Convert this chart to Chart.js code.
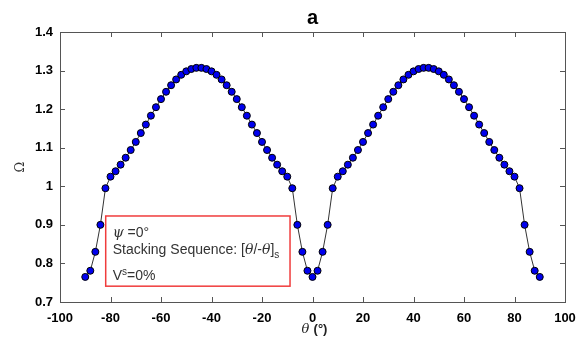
<!DOCTYPE html>
<html>
<head>
<meta charset="utf-8">
<script src="https://cdn.jsdelivr.net/npm/chart.js@4/dist/chart.umd.min.js"></script>
<style>
html,body{margin:0;padding:0;background:#fff;}
#wrap{width:586px;height:338px;position:relative;}
</style>
</head>
<body>
<div id="wrap"><canvas id="c" width="586" height="338"></canvas></div>
<script>
// Data
const thetaDeg = [];
for (let t = -90; t <= 90; t += 2) thetaDeg.push(t);
const omegaLeft = [0.765,0.781,0.830,0.900,0.995,1.025,1.039,1.056,1.074,1.094,1.115,1.138,1.160,1.183,1.205,1.226,1.245,1.262,1.277,1.289,1.298,1.304,1.307,
                   1.307,1.304,1.298,1.289,1.277,1.262,1.245,1.226,1.205,1.183,1.160,1.138,1.115,1.094,1.074,1.056,1.039,1.025,0.995,0.900,0.830,0.781,0.765];
const omegaRight = [0.781,0.830,0.900,0.995,1.025,1.039,1.056,1.074,1.094,1.115,1.138,1.160,1.183,1.205,1.226,1.245,1.262,1.277,1.289,1.298,1.304,1.307,
                    1.307,1.304,1.298,1.289,1.277,1.262,1.245,1.226,1.205,1.183,1.160,1.138,1.115,1.094,1.074,1.056,1.039,1.025,0.995,0.900,0.830,0.781,0.765];
const omega = omegaLeft.concat(omegaRight);
const xTicks = [-100,-80,-60,-40,-20,0,20,40,60,80,100];
const yTicks = [0.7,0.8,0.9,1,1.1,1.2,1.3,1.4];
const yTickLabels = ['0.7','0.8','0.9','1','1.1','1.2','1.3','1.4'];

const points = thetaDeg.map((t,i)=>({x:t,y:omega[i]}));
const AX = '#555';

const decor = {
  id:'decor',
  afterDraw(chart){
    const ctx = chart.ctx, a = chart.chartArea;
    const xs = chart.scales.x, ys = chart.scales.y;
    ctx.save();
    ctx.strokeStyle = AX; ctx.lineWidth = 1;
    ctx.strokeRect(Math.round(a.left)+0.5, Math.round(a.top)+0.5, Math.round(a.right-a.left), Math.round(a.bottom-a.top));
    ctx.beginPath();
    xTicks.forEach(v=>{
      const px = Math.round(xs.getPixelForValue(v))+0.5;
      ctx.moveTo(px, a.bottom); ctx.lineTo(px, a.bottom-5);
      ctx.moveTo(px, a.top); ctx.lineTo(px, a.top+5);
    });
    yTicks.forEach(v=>{
      const py = Math.round(ys.getPixelForValue(v))+0.5;
      ctx.moveTo(a.left, py); ctx.lineTo(a.left+5, py);
      ctx.moveTo(a.right, py); ctx.lineTo(a.right-5, py);
    });
    ctx.stroke();

    // title
    ctx.fillStyle = '#000';
    ctx.font = 'bold 20px "Liberation Sans", Arial, sans-serif';
    ctx.textAlign = 'center'; ctx.textBaseline = 'alphabetic';
    ctx.fillText('a', (a.left+a.right)/2, 24);

    // y axis title
    ctx.save();
    ctx.translate(24, 167);
    ctx.rotate(-Math.PI/2);
    ctx.font = '13px "DejaVu Serif", serif';
    ctx.fillStyle = '#333';
    ctx.textAlign='center';
    ctx.fillText('Ω', 0, 0);
    ctx.restore();

    // x axis title: θ (°)
    ctx.textAlign='left';
    const cx = (a.left+a.right)/2;
    const f1 = 'italic 13px "DejaVu Serif", serif';
    const f2 = 'bold 13px "Liberation Sans", Arial, sans-serif';
    ctx.font = f1; const w1 = ctx.measureText('θ ').width;
    ctx.font = f2; const w2 = ctx.measureText('(°)').width;
    let sx = cx - (w1+w2)/2 + 2;
    ctx.fillStyle = '#222';
    ctx.font = f1; ctx.fillText('θ ', sx, 333);
    ctx.font = f2; ctx.fillText('(°)', sx+w1, 333);

    // annotation box
    const bx0 = xs.getPixelForValue(-81.9), bx1 = xs.getPixelForValue(-8.9);
    const by0 = ys.getPixelForValue(0.923), by1 = ys.getPixelForValue(0.741);
    ctx.fillStyle = '#fff';
    ctx.fillRect(bx0, by0, bx1-bx0, by1-by0);
    ctx.strokeStyle = '#f03c3c'; ctx.lineWidth = 1.5;
    ctx.strokeRect(bx0, by0, bx1-bx0, by1-by0);

    const sans = '14px "Liberation Sans", Arial, sans-serif';
    const ser = 'italic 14px "DejaVu Serif", serif';
    const small = '10px "Liberation Sans", Arial, sans-serif';
    ctx.fillStyle = '#333';
    const tx = bx0 + 7;
    function run(parts, x, y){
      parts.forEach(p=>{
        ctx.font = p[1];
        ctx.fillText(p[0], x, y + (p[2]||0));
        x += ctx.measureText(p[0]).width;
      });
    }
    run([['ψ', ser],[' =0°', sans]], tx, by0+21);
    run([['Stacking Sequence: [', sans],['θ', ser],['/-', sans],['θ', ser],[']', sans],['s', small, 4]], tx, by0+38);
    run([['V', sans],['s', small, -5],['=0%', sans]], tx, by0+64);
    ctx.restore();
  }
};

new Chart(document.getElementById('c'), {
  type:'line',
  data:{datasets:[{
    data: points,
    borderColor:'#333',
    borderWidth:1,
    pointRadius:3.5,
    pointBorderWidth:1,
    pointBackgroundColor:'#0000ee',
    pointBorderColor:'#000',
    tension:0,
    fill:false
  }]},
  options:{
    responsive:false,
    animation:false,
    layout:{padding:{left:0,right:21,top:32,bottom:0}},
    plugins:{legend:{display:false},title:{display:false},tooltip:{enabled:false}},
    scales:{
      x:{
        type:'linear', min:-100, max:100,
        afterBuildTicks(s){ s.ticks = xTicks.map(v=>({value:v})); },
        afterFit(s){ s.height = 36; },
        grid:{display:false, drawTicks:false},
        border:{display:false},
        ticks:{padding:9, color:'#000', font:{family:'"Liberation Sans", Arial, sans-serif', size:13, weight:'bold'}, maxRotation:0, autoSkip:false}
      },
      y:{
        type:'linear', min:0.7, max:1.4,
        afterBuildTicks(s){ s.ticks = yTicks.map(v=>({value:v})); },
        afterFit(s){ s.width = 60; },
        grid:{display:false, drawTicks:false},
        border:{display:false},
        ticks:{padding:7, color:'#000', autoSkip:false,
          callback:(v)=>{ const i = yTicks.findIndex(t=>Math.abs(t-v)<1e-9); return i>=0? yTickLabels[i] : ''; },
          font:{family:'"Liberation Sans", Arial, sans-serif', size:13, weight:'bold'}}
      }
    }
  },
  plugins:[decor]
});
</script>
</body>
</html>
